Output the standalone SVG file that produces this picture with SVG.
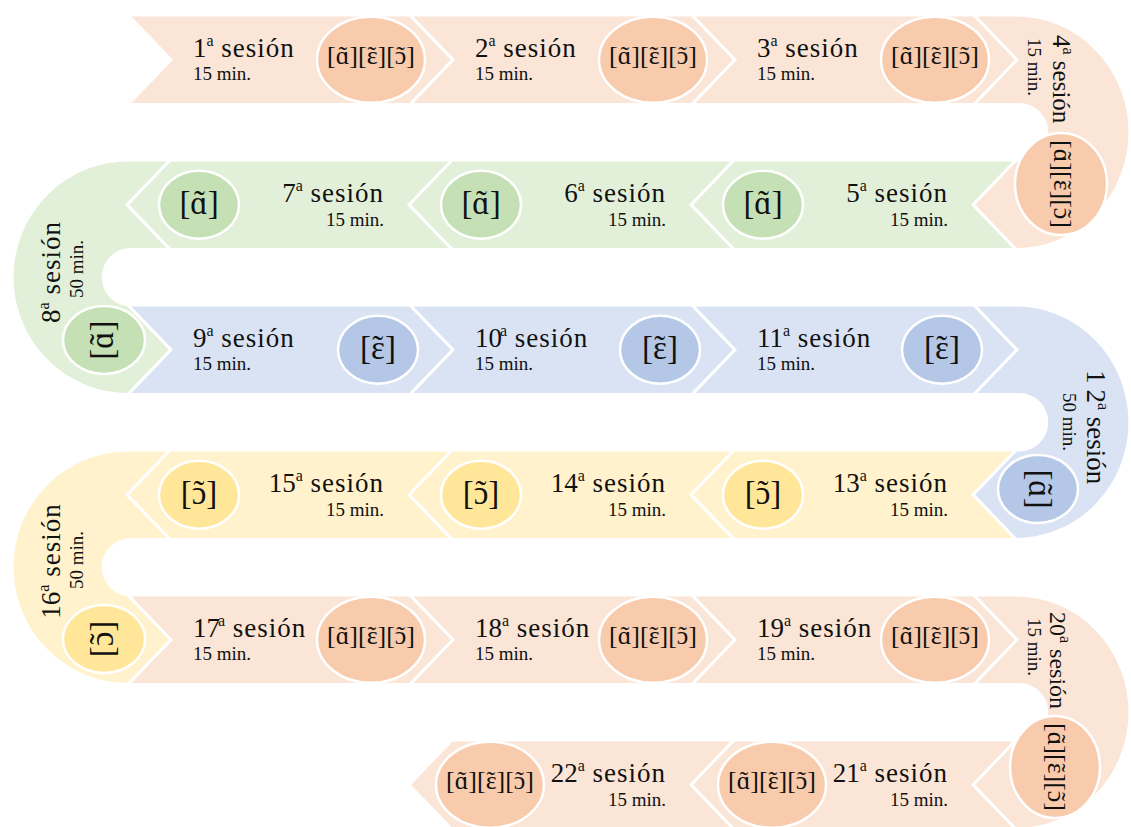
<svg xmlns="http://www.w3.org/2000/svg" width="1131" height="827" viewBox="0 0 1131 827">
  <style>
    .band { stroke: #ffffff; stroke-width: 3; stroke-linejoin: miter; }
    .dot { stroke: #ffffff; stroke-width: 2.5; }
    .peach { fill: #fbe5d6; }
    .peachE { fill: #f8cbad; }
    .green { fill: #e2f0d9; }
    .greenE { fill: #c5e0b4; }
    .blue { fill: #dae3f3; }
    .blueE { fill: #b4c7e7; }
    .yellow { fill: #fff2cc; }
    .yellowE { fill: #ffe699; }
    text { font-family: "Liberation Serif", "Times New Roman", serif; fill: #111111; }
    .ses { font-size: 27px; }
    .sesS { font-size: 25px; }
    .ls { letter-spacing: 1px; }
    .sup { font-size: 16px; }
    .min { font-size: 19px; }
    .ipa3 { font-size: 26px; }
    .ipa1 { font-size: 33px; }
    .end { text-anchor: end; }
    .mid { text-anchor: middle; }
  </style>
  <defs>
    <!-- nasal vowel labels; the tilde is set as a spacing tilde pulled back over its vowel -->
    <text id="tri" class="ipa3" text-anchor="middle">[ɑ<tspan dx="-10.8">˜</tspan><tspan dx="2.2">][ɛ</tspan><tspan dx="-10.1">˜</tspan><tspan dx="1.4">][ɔ</tspan><tspan dx="-10.1">˜</tspan><tspan dx="1.4">]</tspan></text>
    <text id="aN" class="ipa1" text-anchor="middle">[ɑ<tspan dx="-13.7">˜</tspan><tspan dx="2.7">]</tspan></text>
    <text id="eN" class="ipa1" text-anchor="middle">[ɛ<tspan dx="-12.8">˜</tspan><tspan dx="1.8">]</tspan></text>
    <text id="oN" class="ipa1" text-anchor="middle">[ɔ<tspan dx="-12.8">˜</tspan><tspan dx="1.8">]</tspan></text>
  </defs>
  <rect width="1131" height="827" fill="#ffffff"/>

  <!-- row 1 : rightward, peach -->
  <g id="s1">
    <path class="band peach" d="M128,15 H410 L453,59.75 L410,104.5 H128 L171,59.75 Z"/>
    <text class="ses" x="193" y="57">1<tspan class="sup" dy="-11">a</tspan><tspan class="ls" dy="11"> sesión</tspan></text>
    <text class="min" x="193" y="80">15 min.</text>
    <ellipse class="dot peachE" cx="371" cy="59.75" rx="54" ry="43"/>
    <use href="#tri" x="371" y="64"/>
  </g>
  <g id="s2">
    <path class="band peach" d="M410,15 H692 L735,59.75 L692,104.5 H410 L453,59.75 Z"/>
    <text class="ses" x="475" y="57">2<tspan class="sup" dy="-11">a</tspan><tspan class="ls" dy="11"> sesión</tspan></text>
    <text class="min" x="475" y="80">15 min.</text>
    <ellipse class="dot peachE" cx="653" cy="59.75" rx="54" ry="43"/>
    <use href="#tri" x="653" y="64"/>
  </g>
  <g id="s3">
    <path class="band peach" d="M692,15 H974 L1017,59.75 L974,104.5 H692 L735,59.75 Z"/>
    <text class="ses" x="757" y="57">3<tspan class="sup" dy="-11">a</tspan><tspan class="ls" dy="11"> sesión</tspan></text>
    <text class="min" x="757" y="80">15 min.</text>
    <ellipse class="dot peachE" cx="935" cy="59.75" rx="54" ry="43"/>
    <use href="#tri" x="935" y="64"/>
  </g>
  <!-- turn 1-2 (right) -->
  <g id="s4">
    <path class="band peach" d="M974,15 H1016 A114,117.25 0 0 1 1016,249.5 L973,204.75 L1016,160 H1019 A27.75,27.75 0 0 0 1019,104.5 H974 L1017,59.75 Z"/>
    <g transform="translate(1053,35) rotate(90)">
      <text class="sesS" x="0" y="0">4<tspan class="sup" dy="-10">a</tspan><tspan dy="10"> sesión</tspan></text>
      <text class="min" x="3" y="25">15 min.</text>
    </g>
    <ellipse class="dot peachE" cx="1061" cy="184" rx="46" ry="51"/>
    <g transform="translate(1061,184) rotate(90)">
      <use href="#tri" x="0" y="7"/>
    </g>
  </g>

  <!-- row 2 : leftward, green -->
  <g id="s5">
    <path class="band green" d="M1016,160 H734 L691,204.75 L734,249.5 H1016 L973,204.75 Z"/>
    <text class="ses end" x="948" y="201.75">5<tspan class="sup" dy="-11">a</tspan><tspan class="ls" dy="11"> sesión</tspan></text>
    <text class="min end" x="948" y="225.75">15 min.</text>
    <ellipse class="dot greenE" cx="763" cy="204.75" rx="40" ry="34"/>
    <use href="#aN" x="763" y="214"/>
  </g>
  <g id="s6">
    <path class="band green" d="M734,160 H452 L409,204.75 L452,249.5 H734 L691,204.75 Z"/>
    <text class="ses end" x="666" y="201.75">6<tspan class="sup" dy="-11">a</tspan><tspan class="ls" dy="11"> sesión</tspan></text>
    <text class="min end" x="666" y="225.75">15 min.</text>
    <ellipse class="dot greenE" cx="481" cy="204.75" rx="40" ry="34"/>
    <use href="#aN" x="481" y="214"/>
  </g>
  <g id="s7">
    <path class="band green" d="M452,160 H170 L127,204.75 L170,249.5 H452 L409,204.75 Z"/>
    <text class="ses end" x="384" y="201.75">7<tspan class="sup" dy="-11">a</tspan><tspan class="ls" dy="11"> sesión</tspan></text>
    <text class="min end" x="384" y="225.75">15 min.</text>
    <ellipse class="dot greenE" cx="199" cy="204.75" rx="40" ry="34"/>
    <use href="#aN" x="199" y="214"/>
  </g>
  <!-- turn 2-3 (left) -->
  <g id="s8">
    <path class="band green" d="M170,160 H128 A116,117.25 0 0 0 128,394.5 L171,349.75 L128,305 H131 A27.75,27.75 0 0 1 131,249.5 H170 L127,204.75 Z"/>
    <g transform="translate(60,272) rotate(-90)">
      <text class="ses mid" x="0" y="0">8<tspan class="sup" dy="-11">a</tspan><tspan class="ls" dy="11"> sesión</tspan></text>
      <text class="min mid" x="3" y="23">50 min.</text>
    </g>
    <ellipse class="dot greenE" cx="104" cy="340" rx="41" ry="34"/>
    <g transform="translate(104,340) rotate(-90)">
      <use href="#aN" x="0" y="9"/>
    </g>
  </g>

  <!-- row 3 : rightward, blue -->
  <g id="s9">
    <path class="band blue" d="M128,305 H410 L453,349.75 L410,394.5 H128 L171,349.75 Z"/>
    <text class="ses" x="193" y="346.75">9<tspan class="sup" dy="-11">a</tspan><tspan class="ls" dy="11"> sesión</tspan></text>
    <text class="min" x="193" y="369.75">15 min.</text>
    <ellipse class="dot blueE" cx="378" cy="349.75" rx="40" ry="34"/>
    <use href="#eN" x="378" y="359"/>
  </g>
  <g id="s10">
    <path class="band blue" d="M410,305 H692 L735,349.75 L692,394.5 H410 L453,349.75 Z"/>
    <text class="ses" x="475" y="346.75">10<tspan class="sup" dy="-11" dx="-2">a</tspan><tspan class="ls" dy="11"> sesión</tspan></text>
    <text class="min" x="475" y="369.75">15 min.</text>
    <ellipse class="dot blueE" cx="660" cy="349.75" rx="40" ry="34"/>
    <use href="#eN" x="660" y="359"/>
  </g>
  <g id="s11">
    <path class="band blue" d="M692,305 H974 L1017,349.75 L974,394.5 H692 L735,349.75 Z"/>
    <text class="ses" x="757" y="346.75">11<tspan class="sup" dy="-11">a</tspan><tspan class="ls" dy="11"> sesión</tspan></text>
    <text class="min" x="757" y="369.75">15 min.</text>
    <ellipse class="dot blueE" cx="942" cy="349.75" rx="40" ry="34"/>
    <use href="#eN" x="942" y="359"/>
  </g>
  <!-- turn 3-4 (right) -->
  <g id="s12">
    <path class="band blue" d="M974,305 H1016 A114,117.25 0 0 1 1016,539.5 L973,494.75 L1016,450 H1019 A27.75,27.75 0 0 0 1019,394.5 H974 L1017,349.75 Z"/>
    <g transform="translate(1087,370) rotate(90)">
      <text class="ses" x="0" y="0">1<tspan dx="6">2</tspan><tspan class="sup" dy="-11">a</tspan><tspan dy="11"> sesión</tspan></text>
      <text class="min" x="23" y="24">50 min.</text>
    </g>
    <ellipse class="dot blueE" cx="1038" cy="489" rx="40" ry="34"/>
    <g transform="translate(1038,489) rotate(90)">
      <use href="#aN" x="0" y="9"/>
    </g>
  </g>

  <!-- row 4 : leftward, yellow -->
  <g id="s13">
    <path class="band yellow" d="M1016,450 H734 L691,494.75 L734,539.5 H1016 L973,494.75 Z"/>
    <text class="ses end" x="948" y="491.75">13<tspan class="sup" dy="-11">a</tspan><tspan class="ls" dy="11"> sesión</tspan></text>
    <text class="min end" x="948" y="515.75">15 min.</text>
    <ellipse class="dot yellowE" cx="763" cy="494.75" rx="40" ry="34"/>
    <use href="#oN" x="763" y="504"/>
  </g>
  <g id="s14">
    <path class="band yellow" d="M734,450 H452 L409,494.75 L452,539.5 H734 L691,494.75 Z"/>
    <text class="ses end" x="666" y="491.75">14<tspan class="sup" dy="-11">a</tspan><tspan class="ls" dy="11"> sesión</tspan></text>
    <text class="min end" x="666" y="515.75">15 min.</text>
    <ellipse class="dot yellowE" cx="481" cy="494.75" rx="40" ry="34"/>
    <use href="#oN" x="481" y="504"/>
  </g>
  <g id="s15">
    <path class="band yellow" d="M452,450 H170 L127,494.75 L170,539.5 H452 L409,494.75 Z"/>
    <text class="ses end" x="384" y="491.75">15<tspan class="sup" dy="-11">a</tspan><tspan class="ls" dy="11"> sesión</tspan></text>
    <text class="min end" x="384" y="515.75">15 min.</text>
    <ellipse class="dot yellowE" cx="199" cy="494.75" rx="40" ry="34"/>
    <use href="#oN" x="199" y="504"/>
  </g>
  <!-- turn 4-5 (left) -->
  <g id="s16">
    <path class="band yellow" d="M170,450 H128 A116,117.25 0 0 0 128,684.5 L171,639.75 L128,595 H131 A27.75,27.75 0 0 1 131,539.5 H170 L127,494.75 Z"/>
    <g transform="translate(60,561) rotate(-90)">
      <text class="ses mid" x="0" y="0">16<tspan class="sup" dy="-11">a</tspan><tspan class="ls" dy="11"> sesión</tspan></text>
      <text class="min mid" x="1" y="23">50 min.</text>
    </g>
    <ellipse class="dot yellowE" cx="104" cy="639" rx="41" ry="34"/>
    <g transform="translate(104,639) rotate(-90)">
      <use href="#oN" x="0" y="9"/>
    </g>
  </g>

  <!-- row 5 : rightward, peach -->
  <g id="s17">
    <path class="band peach" d="M128,595 H410 L453,639.75 L410,684.5 H128 L171,639.75 Z"/>
    <text class="ses" x="193" y="636.75">17<tspan class="sup" dy="-11" dx="-2">a</tspan><tspan class="ls" dy="11"> sesión</tspan></text>
    <text class="min" x="193" y="659.75">15 min.</text>
    <ellipse class="dot peachE" cx="371" cy="639.75" rx="54" ry="43"/>
    <use href="#tri" x="371" y="644"/>
  </g>
  <g id="s18">
    <path class="band peach" d="M410,595 H692 L735,639.75 L692,684.5 H410 L453,639.75 Z"/>
    <text class="ses" x="475" y="636.75">18<tspan class="sup" dy="-11">a</tspan><tspan class="ls" dy="11"> sesión</tspan></text>
    <text class="min" x="475" y="659.75">15 min.</text>
    <ellipse class="dot peachE" cx="653" cy="639.75" rx="54" ry="43"/>
    <use href="#tri" x="653" y="644"/>
  </g>
  <g id="s19">
    <path class="band peach" d="M692,595 H974 L1017,639.75 L974,684.5 H692 L735,639.75 Z"/>
    <text class="ses" x="757" y="636.75">19<tspan class="sup" dy="-11">a</tspan><tspan class="ls" dy="11"> sesión</tspan></text>
    <text class="min" x="757" y="659.75">15 min.</text>
    <ellipse class="dot peachE" cx="935" cy="639.75" rx="54" ry="43"/>
    <use href="#tri" x="935" y="644"/>
  </g>
  <!-- turn 5-6 (right) -->
  <g id="s20">
    <path class="band peach" d="M974,595 H1016 A114,117.25 0 0 1 1016,829.5 L973,784.75 L1016,740 H1019 A27.75,27.75 0 0 0 1019,684.5 H974 L1017,639.75 Z"/>
    <g transform="translate(1050,612) rotate(90)">
      <text class="sesS" x="0" y="0" style="font-size:24px">20<tspan class="sup" dy="-10">a</tspan><tspan dy="10"> sesión</tspan></text>
      <text class="min" x="6" y="22">15 min.</text>
    </g>
    <ellipse class="dot peachE" cx="1055" cy="767" rx="45" ry="51"/>
    <g transform="translate(1055,767) rotate(90)">
      <use href="#tri" x="0" y="7"/>
    </g>
  </g>

  <!-- row 6 : leftward, peach -->
  <g id="s21">
    <path class="band peach" d="M1016,740 H734 L691,784.75 L734,829.5 H1016 L973,784.75 Z"/>
    <text class="ses end" x="948" y="782">21<tspan class="sup" dy="-11">a</tspan><tspan class="ls" dy="11"> sesión</tspan></text>
    <text class="min end" x="948" y="806">15 min.</text>
    <ellipse class="dot peachE" cx="772" cy="784.75" rx="54" ry="43"/>
    <use href="#tri" x="772" y="789"/>
  </g>
  <g id="s22">
    <path class="band peach" d="M734,740 H452 L409,784.75 L452,829.5 H734 L691,784.75 Z"/>
    <text class="ses end" x="666" y="782">22<tspan class="sup" dy="-11">a</tspan><tspan class="ls" dy="11"> sesión</tspan></text>
    <text class="min end" x="666" y="806">15 min.</text>
    <ellipse class="dot peachE" cx="490" cy="784.75" rx="54" ry="43"/>
    <use href="#tri" x="490" y="789"/>
  </g>
</svg>
